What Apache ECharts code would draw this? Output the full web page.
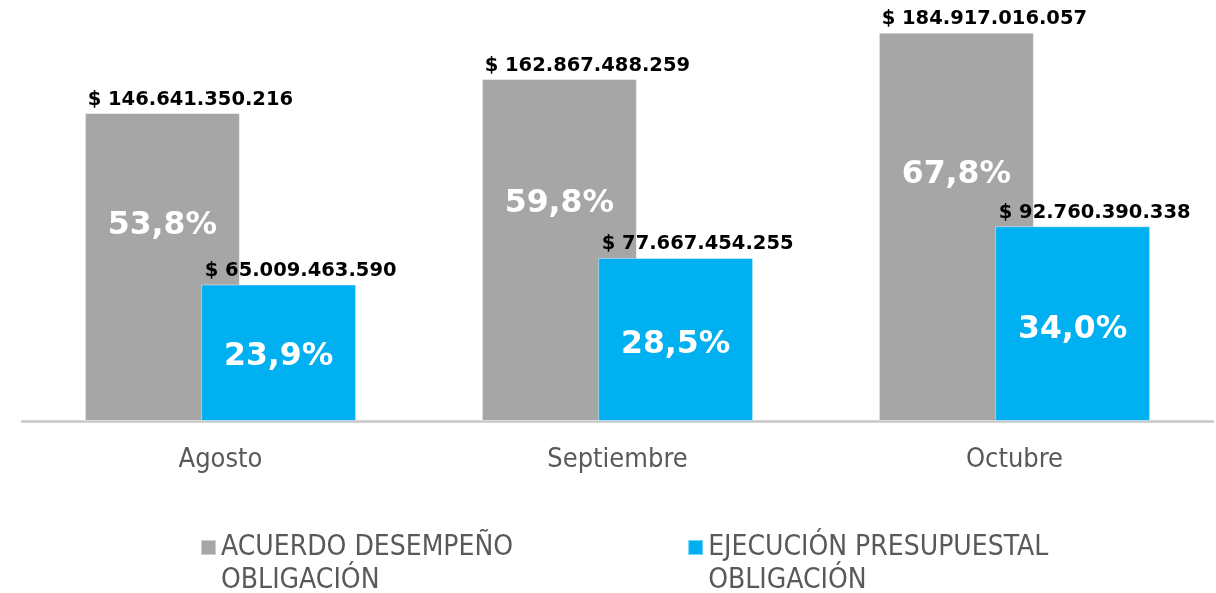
<!DOCTYPE html>
<html>
<head>
<meta charset="utf-8">
<script src="https://cdn.jsdelivr.net/npm/echarts@6/dist/echarts.min.js"></script>
<style>
html,body{margin:0;padding:0;background:#fff;}
#chart{width:1216px;height:593px;}
</style>
</head>
<body>
<div id="chart"></div>
<script>
const categories = ['Agosto', 'Septiembre', 'Octubre'];
const seriesNames = ['ACUERDO DESEMPEÑO\nOBLIGACIÓN', 'EJECUCIÓN PRESUPUESTAL\nOBLIGACIÓN'];
const acuerdoValues = [146641350216, 162867488259, 184917016057];
const ejecucionValues = [65009463590, 77667454255, 92760390338];
const acuerdoPct = [53.8, 59.8, 67.8];
const ejecucionPct = [23.9, 28.5, 34.0];

const FONT = '"DejaVu Sans Condensed", "DejaVu Sans", sans-serif';
const BOLD_FONT = '"DejaVu Sans", sans-serif';

function money(v) {
  return '$ ' + String(v).replace(/\B(?=(\d{3})+(?!\d))/g, '.');
}
function pct(v) {
  return v.toFixed(1).replace('.', ',') + '%';
}
function valueMarks(values, dx) {
  return {
    symbol: 'circle',
    symbolSize: 1,
    itemStyle: { color: 'rgba(0,0,0,0)' },
    silent: true,
    label: {
      show: true,
      position: 'top',
      distance: 3,
      offset: [dx, 0],
      color: '#000',
      fontWeight: 'bold',
      fontSize: 19.5,
      fontFamily: BOLD_FONT,
      formatter: p => money(p.value)
    },
    data: categories.map((c, i) => ({ coord: [c, values[i]], value: values[i] }))
  };
}

const chart = echarts.init(document.getElementById('chart'), null, { renderer: 'canvas' });
chart.setOption({
  animation: false,
  backgroundColor: '#ffffff',
  grid: { left: 22, right: 3, top: 1, bottom: 172, containLabel: false },
  xAxis: {
    type: 'category',
    data: categories,
    axisLine: { show: true, lineStyle: { color: '#c8c8c8', width: 2.5 } },
    axisTick: { show: false },
    axisLabel: { color: '#595959', fontSize: 27, fontFamily: FONT, margin: 25 }
  },
  yAxis: {
    type: 'value',
    min: 0,
    max: 200000000000,
    show: false,
    splitLine: { show: false }
  },
  legend: {
    data: seriesNames,
    left: 200,
    top: 498,
    padding: 0,
    itemGap: 174,
    itemWidth: 15,
    itemHeight: 15,
    icon: 'rect',
    formatter: name => '\n' + name,
    textStyle: {
      color: '#595959',
      fontSize: 28,
      fontFamily: FONT,
      lineHeight: 33
    }
  },
  series: [
    {
      name: seriesNames[0],
      type: 'bar',
      data: acuerdoValues,
      barWidth: 155,
      barGap: '-25%',
      itemStyle: { color: '#a6a6a6', borderColor: 'rgba(255,255,255,0.45)', borderWidth: 1 },
      label: {
        show: true,
        position: ['50%', '36.5%'],
        align: 'center',
        verticalAlign: 'middle',
        color: '#ffffff',
        fontWeight: 'bold',
        fontSize: 31.5,
        fontFamily: BOLD_FONT,
        formatter: p => pct(acuerdoPct[p.dataIndex])
      },
      markPoint: valueMarks(acuerdoValues, 28)
    },
    {
      name: seriesNames[1],
      type: 'bar',
      data: ejecucionValues,
      barWidth: 155,
      barGap: '-25%',
      itemStyle: { color: '#00b0f0', borderColor: 'rgba(255,255,255,0.45)', borderWidth: 1 },
      label: {
        show: true,
        position: ['50%', '53%'],
        align: 'center',
        verticalAlign: 'middle',
        color: '#ffffff',
        fontWeight: 'bold',
        fontSize: 31.5,
        fontFamily: BOLD_FONT,
        formatter: p => pct(ejecucionPct[p.dataIndex])
      },
      markPoint: valueMarks(ejecucionValues, 22)
    }
  ]
});
</script>
</body>
</html>
